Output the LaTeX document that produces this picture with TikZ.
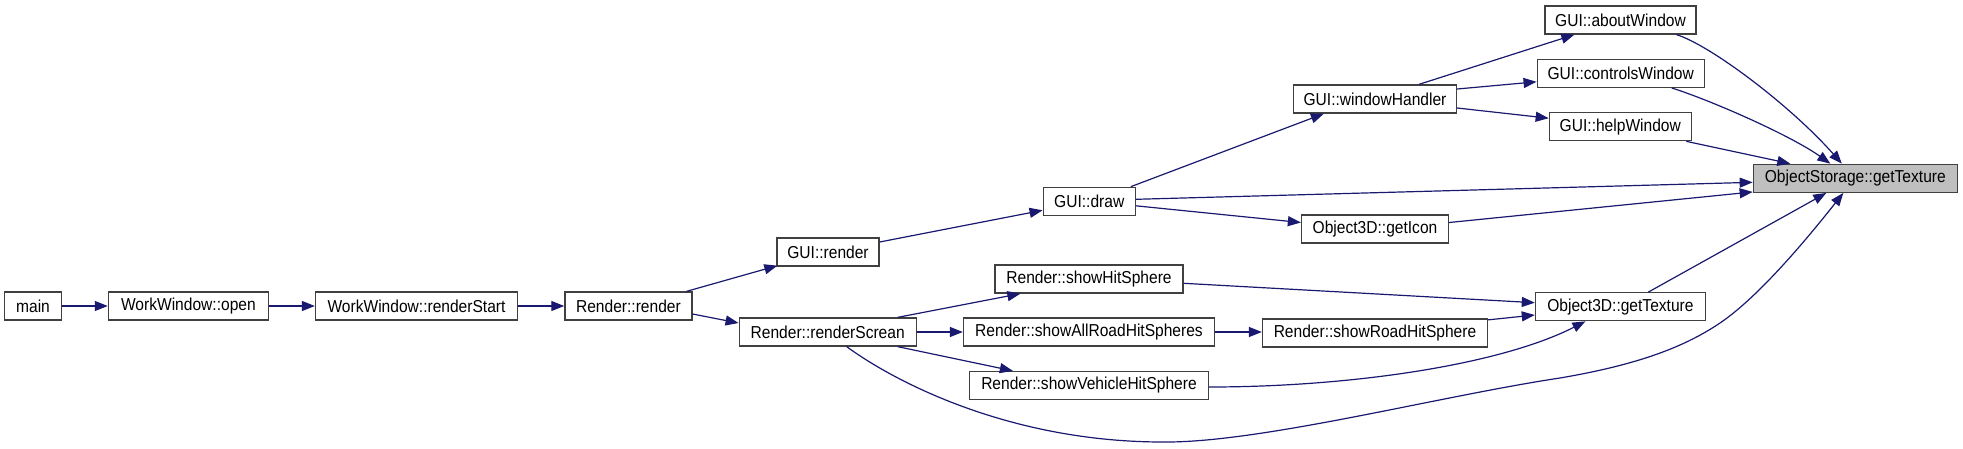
\documentclass[tikz,border=0pt]{standalone}
\usepackage{fontspec}
\setmainfont{Liberation Sans}
\newfontfamily\doxfont[FakeStretch=0.9]{Liberation Sans}
\usetikzlibrary{arrows.meta,calc}
\definecolor{edgeblue}{HTML}{191970}
\definecolor{boxline}{HTML}{404040}
\definecolor{hilite}{HTML}{BFBFBF}
\begin{document}
\begin{tikzpicture}[x=1pt,y=-1pt,
  fn/.style={draw=boxline, line width=1.3pt, fill=white, minimum height=28pt, inner sep=0pt, font=\doxfont\fontsize{17.3}{20}\selectfont, text=black},
  hl/.style={fn, fill=hilite},
  edge/.style={draw=edgeblue, line width=1.2pt, -{Triangle[length=13pt,width=10pt]}}]
\useasboundingbox (0,0) rectangle (1963,448);
\fill[white] (0,0) rectangle (1963,448);
% nodes
\node[fn, minimum width=57pt]  (main)      at (33,306)      {main};
\node[fn, minimum width=160pt] (wopen)     at (188.4,306)   {WorkWindow::open};
\node[fn, minimum width=202pt] (rstart)    at (416.5,306)   {WorkWindow::renderStart};
\node[fn, minimum width=127pt] (rrender)   at (628.4,306)   {Render::render};
\node[fn, minimum width=102pt] (guirender) at (828,252)     {GUI::render};
\node[fn, minimum width=177pt] (rs)        at (827.7,332)   {Render::renderScrean};
\node[fn, minimum width=92pt]  (gdraw)     at (1089.2,201.3){GUI::draw};
\node[fn, minimum width=188pt] (sh)        at (1089,279)    {Render::showHitSphere};
\node[fn, minimum width=251pt] (sar)       at (1089,332)    {Render::showAllRoadHitSpheres};
\node[fn, minimum width=239pt] (sv)        at (1089,385.5)  {Render::showVehicleHitSphere};
\node[fn, minimum width=163pt] (wh)        at (1375,99)     {GUI::windowHandler};
\node[fn, minimum width=147pt] (gi)        at (1375,229)    {Object3D::getIcon};
\node[fn, minimum width=225pt] (sr)        at (1375,333)    {Render::showRoadHitSphere};
\node[fn, minimum width=170pt] (o3)        at (1620.4,306.7){Object3D::getTexture};
\node[fn, minimum width=151pt] (about)     at (1620.5,20)   {GUI::aboutWindow};
\node[fn, minimum width=167pt] (ctrl)      at (1620.7,73.3) {GUI::controlsWindow};
\node[fn, minimum width=142pt] (help)      at (1620.3,126.7){GUI::helpWindow};
\node[hl, minimum width=204pt] (os)        at (1855.3,178.3){ObjectStorage::getTexture};
% edges
\draw[edge] (main.east) -- (wopen.west);
\draw[edge] (wopen.east) -- (rstart.west);
\draw[edge] (rstart.east) -- (rrender.west);
\draw[edge] ($(rrender.north east)+(-6,0)$) -- ($(guirender.south west)+(1,-1)$);
\draw[edge] ($(rrender.east)+(0,8)$) -- ($(rs.west)+(0,-9)$);
\draw[edge] ($(guirender.east)+(0,-10)$) -- ($(gdraw.west)+(0,9)$);
\draw[edge] ($(gdraw.north east)+(-5,0)$) -- ($(wh.south west)+(31,0)$);
\draw[edge] ($(gdraw.east)+(0,-2)$) -- ($(os.west)+(0,4)$);
\draw[edge] ($(gdraw.east)+(0,4.5)$) -- ($(gi.west)+(0,-6.5)$);
\draw[edge] ($(wh.north)+(44,0)$) -- ($(about.south west)+(30,0)$);
\draw[edge] ($(wh.east)+(0,-10)$) -- ($(ctrl.west)+(0,8.5)$);
\draw[edge] ($(wh.east)+(0,9)$) -- ($(help.west)+(0,-8.5)$);
\draw[edge] ($(about.south)+(56,0)$) .. controls (1710,45) and (1790,105) .. ($(os.north)+(-13.5,0)$);
\draw[edge] ($(ctrl.south)+(51,0)$) .. controls (1710,100) and (1790,135) .. ($(os.north)+(-25,0)$);
\draw[edge] ($(help.south)+(66,0)$) -- ($(os.north)+(-65,0)$);
\draw[edge] ($(gi.east)+(0,-6.5)$) -- ($(os.south west)+(0,-1)$);
\draw[edge] ($(o3.north)+(28,0)$) -- ($(os.south)+(-29,0)$);
\draw[edge] ($(rs.south)+(19,0)$) .. controls (895,382) and (1010,442) .. (1163,442)
   .. controls (1260,443) and (1440,396) .. (1560,378)
   .. controls (1630,366) and (1680,350) .. (1720,323)
   .. controls (1760,296) and (1810,235) .. ($(os.south)+(-12,0)$);
\draw[edge] ($(rs.north)+(70,0)$) -- ($(sh.south west)+(26,0)$);
\draw[edge] (rs.east) -- (sar.west);
\draw[edge] ($(rs.south)+(70,0)$) -- ($(sv.north west)+(44,0)$);
\draw[edge] ($(sh.east)+(0,4.3)$) -- ($(o3.west)+(0,-4)$);
\draw[edge] (sar.east) -- (sar.east -| sr.west);
\draw[edge] ($(sr.north east)+(0,1.5)$) -- ($(o3.west)+(0,8.3)$);
\draw[edge] ($(sv.east)+(0,1.5)$) .. controls (1350,387) and (1500,365) .. ($(o3.south)+(-35,0)$);
\end{tikzpicture}
\end{document}
